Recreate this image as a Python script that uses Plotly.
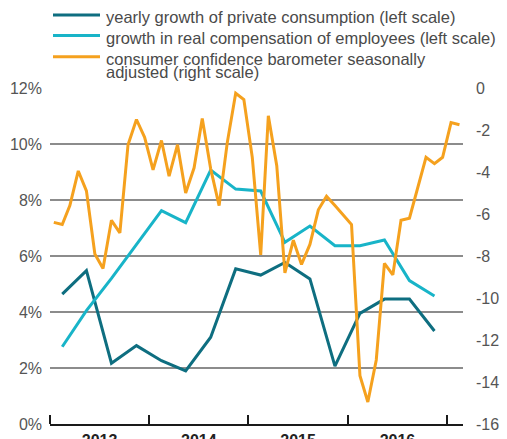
import plotly.graph_objects as go

# ---- data ----
month_dates = [f"{y}-{m:02d}-15" for y in range(2013, 2018) for m in range(1, 13)][:50]
confidence = [
    -6.4, -6.5, -5.6, -3.95, -4.9, -7.9, -8.6, -6.3, -6.9, -2.7, -1.5, -2.35,
    -3.9, -2.5, -4.2, -2.7, -5.0, -3.8, -1.45, -3.85, -5.6, -2.6, -0.25, -0.55,
    -3.3, -7.95, -1.32, -3.7, -8.8, -7.25, -8.4, -7.45, -5.8, -5.15, -5.6, -6.05,
    -6.5, -13.7, -14.95, -12.95, -8.35, -8.9, -6.3, -6.2, -4.7, -3.3, -3.6, -3.3,
    -1.65, -1.75,
]
quarter_dates = [f"{y}-{m:02d}-15" for y in range(2013, 2017) for m in (2, 5, 8, 11)]
private_consumption = [4.64, 5.48, 2.17, 2.8, 2.26, 1.9, 3.1, 5.54,
                       5.32, 5.77, 5.18, 2.07, 3.95, 4.46, 4.46, 3.32]
compensation = [2.76, 4.05, 5.2, 6.4, 7.62, 7.19, 9.07, 8.39,
                8.32, 6.49, 7.07, 6.37, 6.37, 6.57, 5.12, 4.57]

left_ticks = [0, 2, 4, 6, 8, 10, 12]
left_ticktext = [f"{v}%" for v in left_ticks]
right_ticks = [0, -2, -4, -6, -8, -10, -12, -14, -16]
right_ticktext = ["0" if v == 0 else "-" + str(abs(v)) for v in right_ticks]

series_names = [
    "yearly growth of private consumption (left scale)",
    "growth in real compensation of employees (left scale)",
    "consumer confidence barometer seasonally",
    "adjusted (right scale)",
]

C_DARK = "#0e6e80"
C_LIGHT = "#18b4c8"
C_ORANGE = "#f5a11e"
FONT = "Liberation Sans"

fig = go.Figure()
fig.add_trace(go.Scatter(x=quarter_dates, y=private_consumption, mode="lines",
                         line=dict(color=C_DARK, width=3), name=series_names[0],
                         showlegend=False, yaxis="y"))
fig.add_trace(go.Scatter(x=quarter_dates, y=compensation, mode="lines",
                         line=dict(color=C_LIGHT, width=3), name=series_names[1],
                         showlegend=False, yaxis="y"))
fig.add_trace(go.Scatter(x=month_dates, y=confidence, mode="lines",
                         line=dict(color=C_ORANGE, width=3),
                         name=series_names[2] + " " + series_names[3],
                         showlegend=False, yaxis="y2"))

W, H = 507, 439
ML, MR, MT, MB = 50, 44, 88, 15
PW, PH = W - ML - MR, H - MT - MB


def px(xp):
    return (xp - ML) / PW


def py(yp):
    return (H - MB - yp) / PH


shapes = []
# black gridlines at 10% and 4%
for v in (10, 4):
    shapes.append(dict(type="line", xref="paper", x0=0, x1=1, yref="y", y0=v, y1=v,
                       line=dict(color="#1a1a1a", width=1.3), layer="between"))
# manual legend lines
for yy, col in ((15, C_DARK), (35.5, C_LIGHT), (56.7, C_ORANGE)):
    shapes.append(dict(type="line", xref="paper", yref="paper",
                       x0=px(53), x1=px(100), y0=py(yy), y1=py(yy),
                       line=dict(color=col, width=3)))

annotations = []
for txt, yy in ((series_names[0], 17.5), (series_names[1], 38.5),
                (series_names[2], 59.5), (series_names[3], 71.5)):
    annotations.append(dict(text=txt, xref="paper", yref="paper", x=px(104), y=py(yy),
                            xanchor="left", yanchor="middle", showarrow=False,
                            font=dict(family=FONT, size=16.5, color="#4a4a4a")))

fig.update_layout(
    width=W, height=H,
    margin=dict(l=ML, r=MR, t=MT, b=MB, pad=0),
    paper_bgcolor="white", plot_bgcolor="white",
    showlegend=False,
    shapes=shapes, annotations=annotations,
    xaxis=dict(type="date", range=["2013-01-01", "2017-02-28"],
               tick0="2013-01-01", dtick="M12", tickformat="%Y",
               ticklabelmode="period", ticks="inside", ticklen=9,
               tickcolor="#1a1a1a", tickwidth=1.5,
               showline=True, linecolor="#1a1a1a", linewidth=2,
               showgrid=False, zeroline=False, automargin=False,
               ticklabelstandoff=1,
               tickfont=dict(family=FONT, size=16, color="#222222", weight="bold")),
    yaxis=dict(range=[0, 12], tickvals=left_ticks, ticktext=left_ticktext,
               showgrid=True, gridcolor="#8c8c8c", gridwidth=1.5,
               zeroline=False, showline=False, ticks="", automargin=False,
               ticklabelstandoff=7,
               tickfont=dict(family=FONT, size=16, color="#555555")),
    yaxis2=dict(range=[-16, 0], overlaying="y", side="right",
                tickvals=right_ticks, ticktext=right_ticktext,
                showgrid=False, zeroline=False, showline=False, ticks="",
                automargin=False, ticklabelstandoff=12,
                tickfont=dict(family=FONT, size=16, color="#555555")),
)

fig.write_html("out.html", config={"displayModeBar": False},
               post_script="document.body.style.margin='0';")
